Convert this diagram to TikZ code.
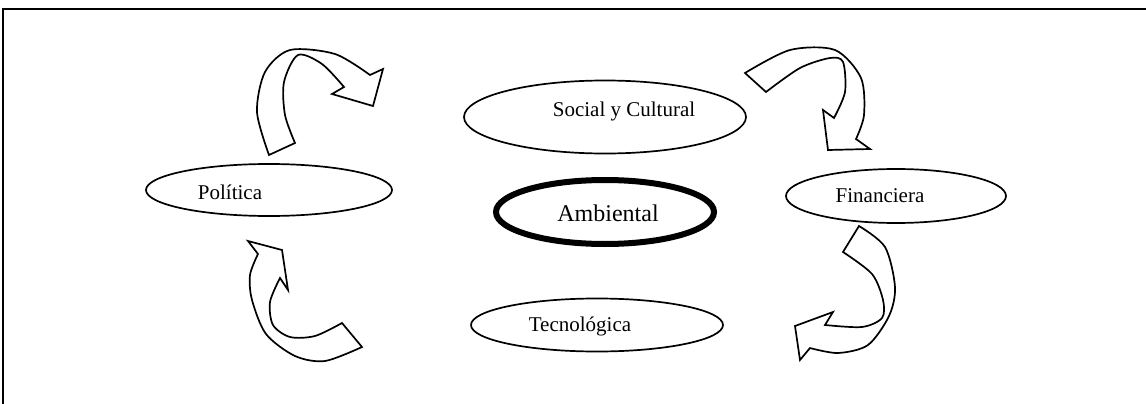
\documentclass[tikz,border=0pt]{standalone}
\usepackage{fontspec}
\setmainfont{Liberation Serif}
\usetikzlibrary{shapes.geometric}
\tikzset{
  oval/.style={draw, ellipse, line width=1.7pt, inner sep=0pt, fill=white},
  lbl/.style={font=\fontsize{21}{25}\selectfont, inner sep=0pt},
  bent/.style={draw, line width=1.7pt, fill=white, line join=miter},
}
\begin{document}
\begin{tikzpicture}[x=1pt,y=-1pt]
\useasboundingbox (0,0) rectangle (1146,404);
\draw[line width=1.2pt] (3,404) -- (3,9) -- (1146,9);
\node[oval, minimum width=282pt, minimum height=73pt] (soc) at (605,117) {};
\node[oval, minimum width=246pt, minimum height=52pt] (pol) at (269,190) {};
\node[oval, line width=6pt, minimum width=218pt, minimum height=64pt] (amb) at (605,212) {};
\node[oval, minimum width=220pt, minimum height=54pt] (fin) at (896,196) {};
\node[oval, minimum width=252pt, minimum height=53pt] (tec) at (597,325) {};
\node[lbl] (soctxt) at (624,111) {Social y Cultural};
\node[lbl] (poltxt) at (230,192) {Política};
\node[lbl, font=\fontsize{24}{28}\selectfont] (ambtxt) at (608,213) {Ambiental};
\node[lbl] (fintxt) at (880,196) {Financiera};
\node[lbl] (tectxt) at (580,326) {Tecnológica};
\draw[bent] (269,155) -- plot[smooth] coordinates {(269,155) (257,112) (265,72) (290,50) (335,54) (370,75)}
  -- (383,69) -- (373,106) -- (332,94) -- (344,87)
  -- plot[smooth] coordinates {(344,87) (322,64) (298,55) (284,82) (285,115) (295,143)} -- cycle;
\draw[bent] (745,73) -- plot[smooth] coordinates {(745,73) (790,50) (835,50) (861,78) (864,115) (856,139)}
  -- (870,149) -- (828,150) -- (823,110) -- (834,118)
  -- plot[smooth] coordinates {(834,118) (845,92) (843,62) (830,58) (800,68) (766,92)} -- cycle;
\draw[bent] (843,252) -- plot[smooth] coordinates {(843,252) (872,274) (883,300) (882,318) (862,327) (825,325)}
  -- (833,312) -- (795,326) -- (800,360) -- (810,348)
  -- plot[smooth] coordinates {(810,348) (838,353) (868,345) (889,316) (895,287) (885,247) (859,226)} -- cycle;
\draw[bent] (258,254) -- (248,241) -- (282,250) -- (288,290) -- (280,278)
  -- plot[smooth] coordinates {(280,278) (270,302) (273,325) (290,337) (315,336) (342,323)}
  -- (362,347) -- plot[smooth] coordinates {(362,347) (325,361) (295,356) (266,334) (252,300) (250,275) (258,254)} -- cycle;
\end{tikzpicture}
\end{document}
